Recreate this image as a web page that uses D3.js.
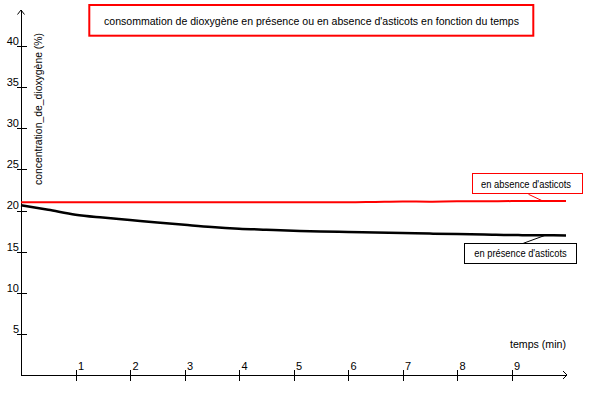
<!DOCTYPE html>
<html>
<head>
<meta charset="utf-8">
<script src="https://cdn.jsdelivr.net/npm/d3@7"></script>
<style>
  html, body { margin: 0; padding: 0; background: #fff; }
  svg { display: block; }
  text { font-family: "Liberation Sans", Arial, sans-serif; fill: #000; }
</style>
</head>
<body>
<svg id="chart" width="592" height="394"></svg>
<script>
// ---- data ----
const titleText = "consommation de dioxygène en présence ou en absence d'asticots en fonction du temps";
const yAxisLabel = "concentration_de_dioxygène (%)";
const xAxisLabel = "temps (min)";
const xTicks = [1, 2, 3, 4, 5, 6, 7, 8, 9];
const yTicks = [5, 10, 15, 20, 25, 30, 35, 40];
const times = [0, 0.5, 1, 1.5, 2, 2.5, 3, 3.5, 4, 4.5, 5, 5.5, 6, 6.5, 7, 7.5, 8, 8.5, 9, 9.5, 10];
const presence = [20.65, 20.1, 19.5, 19.15, 18.85, 18.55, 18.27, 18.0, 17.8, 17.67, 17.55, 17.45, 17.4, 17.33, 17.27, 17.2, 17.15, 17.1, 17.02, 17.0, 16.97];
const absence  = [21.0, 21.0, 21.0, 21.0, 21.0, 21.0, 21.0, 21.0, 21.0, 21.0, 21.0, 21.0, 21.0, 21.05, 21.1, 21.08, 21.12, 21.12, 21.15, 21.15, 21.15];
const legendAbsence = "en absence d'asticots";
const legendPresence = "en présence d'asticots";

// ---- chart ----
const svg = d3.select("#chart");
const x = d3.scaleLinear().domain([0, 10]).range([21, 566]);
const y = d3.scaleLinear().domain([0, 40]).range([375, 46.1]);

// title box
svg.append("rect").attr("x", 89.3).attr("y", 5).attr("width", 444).attr("height", 30.7)
  .attr("fill", "none").attr("stroke", "#ff0000").attr("stroke-width", 2);
svg.append("text").attr("x", 311.5).attr("y", 24.5).attr("text-anchor", "middle")
  .attr("font-size", 11).attr("textLength", 415).attr("lengthAdjust", "spacingAndGlyphs")
  .text(titleText);

// y axis
const yAx = svg.append("g").attr("transform", `translate(${x(0)},0)`)
  .call(d3.axisLeft(y).tickValues(yTicks).tickSizeOuter(0).tickSizeInner(4).tickFormat(d3.format("d")));
yAx.select(".domain").remove();
yAx.selectAll(".tick line").attr("x1", -4.5).attr("x2", 6).attr("stroke", "#000").attr("stroke-width", 1)
  .attr("shape-rendering", "crispEdges");
yAx.selectAll(".tick text").attr("x", -2).attr("dy", "-0.15em")
  .attr("font-size", 11).attr("font-family", "Liberation Sans, Arial, sans-serif").attr("fill", "#000");
svg.append("line").attr("x1", x(0)).attr("x2", x(0)).attr("y1", 10).attr("y2", y(0))
  .attr("stroke", "#000").attr("stroke-width", 1).attr("shape-rendering", "crispEdges");
svg.append("path").attr("d", `M${x(0)-3.5},14.5 L${x(0)},10 L${x(0)+3.5},14.5`)
  .attr("fill", "none").attr("stroke", "#000").attr("stroke-width", 1);

// x axis
const xAx = svg.append("g").attr("transform", `translate(0,${y(0)})`)
  .call(d3.axisBottom(x).tickValues(xTicks).tickSizeOuter(0).tickSizeInner(6).tickFormat(d3.format("d")));
xAx.select(".domain").remove();
xAx.selectAll(".tick line").attr("y1", -5).attr("y2", 6).attr("stroke", "#000").attr("stroke-width", 1)
  .attr("shape-rendering", "crispEdges");
xAx.selectAll(".tick text").attr("x", 2).attr("y", -5.5).attr("dy", 0).attr("text-anchor", "start")
  .attr("font-size", 11).attr("font-family", "Liberation Sans, Arial, sans-serif").attr("fill", "#000");
svg.append("line").attr("x1", x(0)).attr("x2", 567).attr("y1", y(0)).attr("y2", y(0))
  .attr("stroke", "#000").attr("stroke-width", 1).attr("shape-rendering", "crispEdges");
svg.append("path").attr("d", `M563,${y(0)-4} L567,${y(0)} L563,${y(0)+4}`)
  .attr("fill", "none").attr("stroke", "#000").attr("stroke-width", 1);

// axis labels
svg.append("text").attr("x", 510).attr("y", 348).attr("font-size", 11)
  .attr("textLength", 56).attr("lengthAdjust", "spacingAndGlyphs").text(xAxisLabel);
svg.append("text").attr("transform", "translate(41.5,109) rotate(-90)").attr("text-anchor", "middle")
  .attr("font-size", 11).attr("textLength", 152).attr("lengthAdjust", "spacingAndGlyphs").text(yAxisLabel);

// lines
const line = d3.line().x(d => x(d[0])).y(d => y(d[1])).curve(d3.curveMonotoneX);
svg.append("path").datum(times.map((t, i) => [t, absence[i]]))
  .attr("d", line).attr("fill", "none").attr("stroke", "#ff0000").attr("stroke-width", 2);
svg.append("path").datum(times.map((t, i) => [t, presence[i]]))
  .attr("d", line).attr("fill", "none").attr("stroke", "#000").attr("stroke-width", 2.5);

// legend: absence
svg.append("rect").attr("x", 472.5).attr("y", 173.5).attr("width", 110).attr("height", 20)
  .attr("fill", "#fff").attr("stroke", "#ff0000").attr("stroke-width", 1).attr("shape-rendering", "crispEdges");
svg.append("text").attr("x", 481).attr("y", 187.5).attr("font-size", 11)
  .attr("textLength", 90).attr("lengthAdjust", "spacingAndGlyphs").text(legendAbsence);
svg.append("line").attr("x1", 528.5).attr("y1", 194.3).attr("x2", 543).attr("y2", y(absence[absence.length - 3]))
  .attr("stroke", "#ff0000").attr("stroke-width", 1);

// legend: presence
svg.append("rect").attr("x", 464.5).attr("y", 243.5).attr("width", 112).attr("height", 20)
  .attr("fill", "#fff").attr("stroke", "#000").attr("stroke-width", 1).attr("shape-rendering", "crispEdges");
svg.append("text").attr("x", 474.3).attr("y", 257).attr("font-size", 11)
  .attr("textLength", 92.4).attr("lengthAdjust", "spacingAndGlyphs").text(legendPresence);
svg.append("line").attr("x1", 523.3).attr("y1", 243.3).attr("x2", 545.5).attr("y2", y(presence[presence.length - 2]))
  .attr("stroke", "#000").attr("stroke-width", 1);
</script>
</body>
</html>
